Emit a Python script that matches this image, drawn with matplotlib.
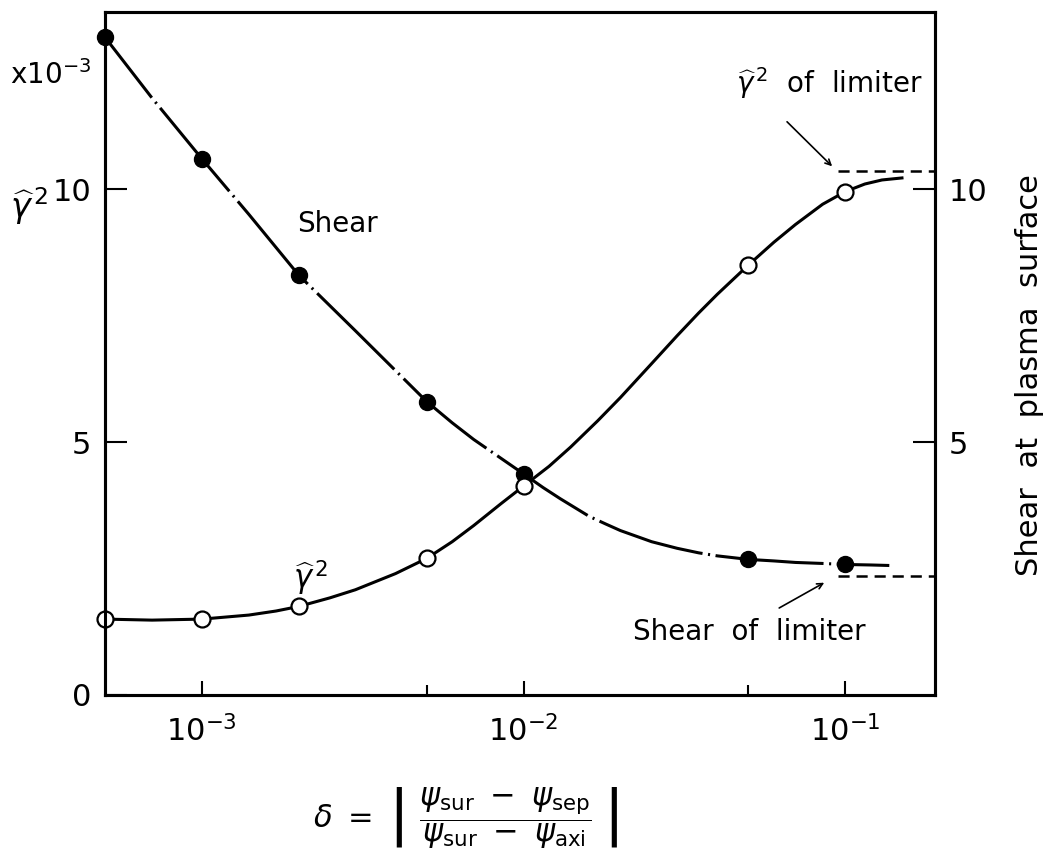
import matplotlib
matplotlib.use("Agg")
import matplotlib.pyplot as plt
from matplotlib.ticker import FixedLocator, NullFormatter

# Measured points
delta_pts = [5e-4, 1e-3, 2e-3, 5e-3, 1e-2, 5e-2, 1e-1]
shear_pts = [13.0, 10.6, 8.3, 5.8, 4.37, 2.68, 2.58]
gamma2_pts = [1.5, 1.5, 1.75, 2.7, 4.13, 8.5, 9.95]

# Fitted curves (sampled along the drawn lines)
shear_curve_x = [5e-4, 7e-4, 1e-3, 1.4e-3, 2e-3, 3e-3, 5e-3, 6e-3, 7e-3, 8.5e-3,
                 1e-2, 1.15e-2, 1.3e-2, 1.6e-2, 1.8e-2, 2e-2, 2.5e-2, 3e-2, 3.5e-2,
                 4e-2, 5e-2, 6e-2, 7e-2, 8.5e-2, 1e-1, 1.2e-1, 1.37e-1]
shear_curve_y = [13.0, 11.8, 10.6, 9.5, 8.3, 7.2, 5.8, 5.38, 5.05, 4.68,
                 4.37, 4.1, 3.88, 3.53, 3.38, 3.25, 3.03, 2.9, 2.81,
                 2.75, 2.68, 2.65, 2.62, 2.6, 2.58, 2.57, 2.56]
gamma_curve_x = [5e-4, 7e-4, 1e-3, 1.4e-3, 1.7e-3, 2e-3, 2.5e-3, 3e-3, 4e-3, 5e-3,
                 6e-3, 7e-3, 8.5e-3, 1e-2, 1.2e-2, 1.4e-2, 1.7e-2, 2e-2, 2.5e-2,
                 3e-2, 3.5e-2, 4e-2, 5e-2, 6e-2, 7e-2, 8.5e-2, 1e-1, 1.15e-1,
                 1.3e-1, 1.5e-1]
gamma_curve_y = [1.5, 1.48, 1.5, 1.58, 1.66, 1.75, 1.92, 2.08, 2.4, 2.7,
                 3.03, 3.35, 3.78, 4.13, 4.52, 4.9, 5.42, 5.88, 6.55,
                 7.1, 7.55, 7.92, 8.5, 8.95, 9.3, 9.7, 9.95, 10.1,
                 10.18, 10.22]

# Limiter reference levels
gamma2_limiter = 10.35
shear_limiter = 2.36
limiter_x = [0.095, 0.19]

x_major = [1e-3, 1e-2, 1e-1]
x_minor = [5e-3, 5e-2]
x_labels = [r"$10^{-3}$", r"$10^{-2}$", r"$10^{-1}$"]
y_ticks_left = [0, 5, 10]
y_ticks_right = [5, 10]

plt.rcParams["font.family"] = ["DejaVu Sans"]
plt.rcParams["lines.scale_dashes"] = False

fig = plt.figure(figsize=(10.57, 8.66), dpi=100)
ax = fig.add_axes([105 / 1057, 1 - 695 / 866, (935 - 105) / 1057, (695 - 12) / 866])
ax.set_xscale("log")
ax.set_xlim(5e-4, 0.19)
ax.set_ylim(0, 13.5)

lw = 2.2
# Shear: long dashes broken by dash-dot gaps
ax.plot(shear_curve_x, shear_curve_y, color="black", lw=lw,
        linestyle=(23, (78, 4, 1.5, 4)), solid_capstyle="butt",
        solid_joinstyle="round", zorder=2)
ax.plot(gamma_curve_x, gamma_curve_y, color="black", lw=lw,
        solid_joinstyle="round", zorder=2)

ax.plot(delta_pts, shear_pts, "o", ms=11.5, color="black", mec="black", zorder=4,
        clip_on=False)
ax.plot(delta_pts, gamma2_pts, "o", ms=11.5, mfc="white", mec="black", mew=1.6,
        zorder=5, clip_on=False)

# Limiter levels
ax.plot(limiter_x, [gamma2_limiter] * 2, color="black", lw=1.8,
        linestyle=(0, (8, 5)), zorder=2, clip_on=False)
ax.plot(limiter_x, [shear_limiter] * 2, color="black", lw=1.8,
        linestyle=(0, (8, 5)), zorder=2, clip_on=False)

for s in ax.spines.values():
    s.set_linewidth(2.2)

ax.xaxis.set_major_locator(FixedLocator(x_major))
ax.xaxis.set_minor_locator(FixedLocator(x_minor))
ax.xaxis.set_minor_formatter(NullFormatter())
ax.set_xticklabels(x_labels)
ax.tick_params(axis="x", which="major", direction="in", length=10, width=1.5,
               labelsize=22, pad=14)
ax.tick_params(axis="x", which="minor", direction="in", length=7, width=1.5)

ax.set_yticks(y_ticks_left)
ax.set_yticklabels([str(v) for v in y_ticks_left])
ax.tick_params(axis="y", which="major", direction="in", length=16, width=1.5,
               labelsize=22, pad=10)
ax.yaxis.set_minor_locator(FixedLocator([]))

ax2 = ax.twinx()
ax2.set_ylim(ax.get_ylim())
ax2.set_yticks(y_ticks_right)
ax2.set_yticklabels([str(v) for v in y_ticks_right])
ax2.tick_params(axis="y", direction="in", length=16, width=1.5, labelsize=22, pad=10)
for s in ax2.spines.values():
    s.set_linewidth(2.2)
fig.text(1029 / 1057, 1 - 375 / 866, "Shear  at  plasma  surface", fontsize=22,
         rotation=90, ha="center", va="center")

# Left axis labels
fig.text(10 / 1057, 1 - 75 / 866, r"x$10^{-3}$", fontsize=20, ha="left", va="center")
fig.text(29 / 1057, 1 - 206 / 866, r"$\widehat{\gamma}^{\,2}$", fontsize=24,
         ha="center", va="center")

# x-axis label
fig.text(466 / 1057, 1 - 818 / 866,
         r"$\delta\ =\ \left|\ \dfrac{\psi_{\mathrm{sur}}\ -\ \psi_{\mathrm{sep}}}"
         r"{\psi_{\mathrm{sur}}\ -\ \psi_{\mathrm{axi}}}\ \right|$",
         fontsize=22, ha="center", va="center")

# Curve labels
ax.text(2.64e-3, 9.3, "Shear", fontsize=20, ha="center", va="center")
ax.text(2.18e-3, 2.3, r"$\widehat{\gamma}^{\,2}$", fontsize=22, ha="center",
        va="center")

# Limiter annotations
ax.text(0.089, 12.1, r"$\widehat{\gamma}^{\,2}$  of  limiter", fontsize=20,
        ha="center", va="center")
ax.annotate("", xy=(0.091, 10.45), xytext=(0.0659, 11.33),
            arrowprops=dict(arrowstyle="->", lw=1.2, color="black",
                            shrinkA=0, shrinkB=0))
ax.text(0.0502, 1.25, "Shear  of  limiter", fontsize=20, ha="center", va="center")
ax.annotate("", xy=(0.086, 2.22), xytext=(0.0623, 1.72),
            arrowprops=dict(arrowstyle="->", lw=1.2, color="black",
                            shrinkA=0, shrinkB=0))

fig.savefig("out.png", dpi=100)
